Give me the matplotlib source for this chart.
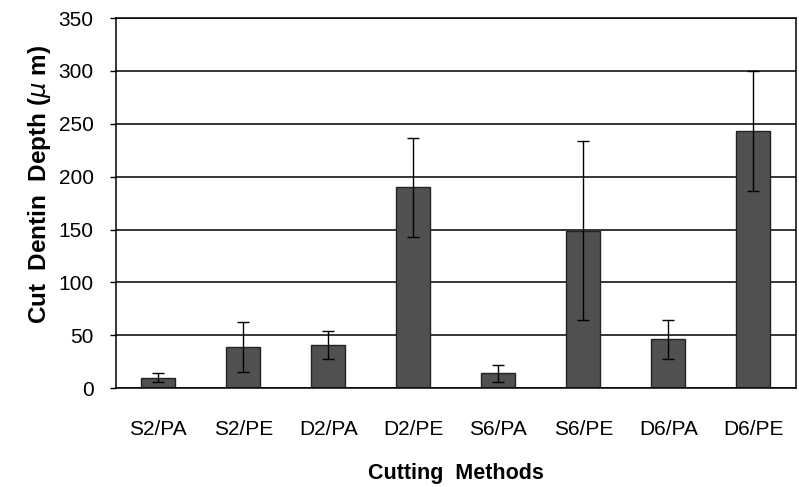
import matplotlib
matplotlib.use("Agg")
import matplotlib.pyplot as plt
import numpy as np

categories = ["S2/PA", "S2/PE", "D2/PA", "D2/PE", "S6/PA", "S6/PE", "D6/PA", "D6/PE"]
means = [10, 39, 41, 190, 14, 149, 46, 243]
errors = [4, 24, 13, 47, 8, 85, 18, 57]
yticks = [0, 50, 100, 150, 200, 250, 300, 350]

plt.rcParams['font.family'] = ['Liberation Sans', 'DejaVu Sans']

fig = plt.figure(figsize=(7.99, 4.87), dpi=100)
ax = fig.add_axes([0.145, 0.203, 0.851, 0.76])

x = np.arange(len(categories))
ax.set_axisbelow(True)
ax.yaxis.grid(True, color='black', linewidth=1.1)
ax.bar(x, means, width=0.4, color='#505050', edgecolor='#222222', linewidth=1.0, zorder=2)
ax.errorbar(x, means, yerr=errors, fmt='none', ecolor='black', elinewidth=1.0,
            capsize=4, capthick=1.0, zorder=3)

ax.set_xlim(-0.5, len(categories) - 0.5)
ax.set_ylim(0, 350)
ax.set_yticks(yticks)
ax.set_xticks(x)
ax.set_xticklabels(categories, fontsize=15)
ax.tick_params(axis='y', labelsize=15, length=4, width=1, direction='out', pad=12)
ax.tick_params(axis='x', length=0, pad=23)
for s in ax.spines.values():
    s.set_color('black')
    s.set_linewidth(1.1)

ax.set_ylabel("Cut  Dentin  Depth ($\\mu$ m)", fontsize=17.5, fontweight='bold')
ax.yaxis.set_label_coords(-0.092, 0.55)
ax.set_xlabel("Cutting  Methods", fontsize=15.5, fontweight='bold', labelpad=17)

fig.savefig("out.png", dpi=100)
